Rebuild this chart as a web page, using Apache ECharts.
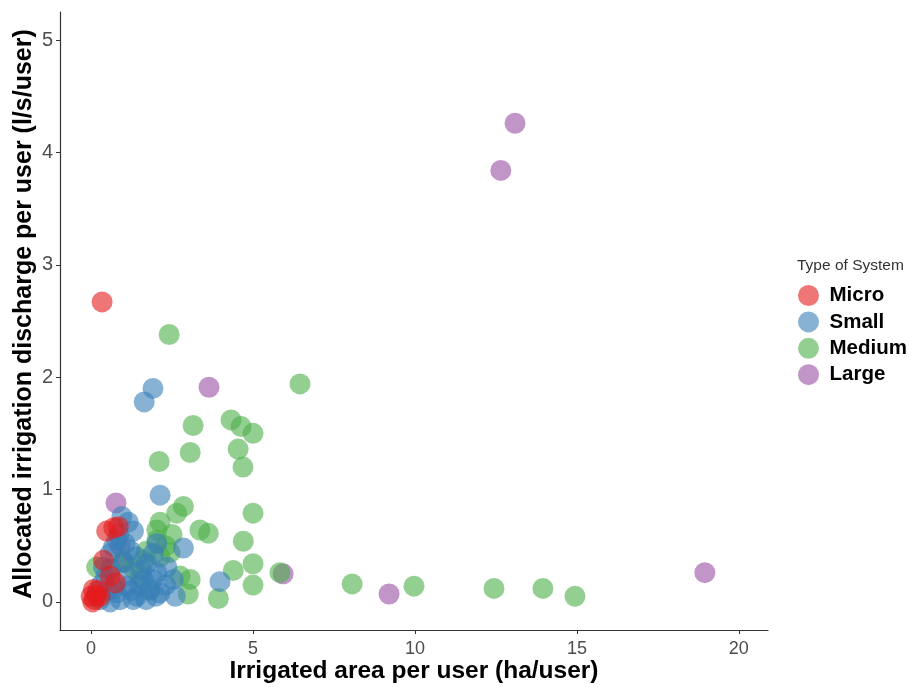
<!DOCTYPE html>
<html>
<head>
<meta charset="utf-8">
<script src="https://cdn.jsdelivr.net/npm/echarts@6/dist/echarts.min.js"></script>
<style>
html,body{margin:0;padding:0;background:#fff;}
#chart{width:909px;height:687px;}
</style>
</head>
<body>
<div id="chart"></div>
<script>
// Data: [irrigated area (ha/user), discharge (l/s/user)]
const microPoints = [[0.34,2.67],[0.84,0.67],[0.48,0.63],[0.7,0.66],[0.38,0.37],[0.59,0.23],[0.07,0.11],[0.17,0.06],[0.0,0.05],[0.28,0.05],[0.1,0.02],[0.2,0.1],[0.75,0.17],[0.05,0.0]];
const smallPoints = [[1.91,1.9],[1.64,1.78],[2.13,0.95],[2.85,0.48],[3.98,0.18],[0.95,0.76],[1.15,0.71],[1.31,0.63],[0.79,0.55],[0.69,0.49],[2.03,0.52],[1.92,0.43],[2.34,0.31],[2.03,0.26],[1.61,0.2],[1.1,0.14],[1.82,0.11],[1.41,0.05],[0.59,0.0],[0.9,0.02],[0.28,0.02],[2.13,0.08],[0.38,0.31],[0.59,0.43],[1.2,0.46],[1.56,0.28],[1.1,0.23],[2.54,0.2],[1.72,0.34],[0.5,0.1],[0.8,0.08],[1.3,0.02],[1.0,0.35],[1.4,0.4],[0.3,0.15],[0.6,0.3],[1.7,0.02],[2.3,0.15],[1.9,0.2],[0.85,0.6],[1.05,0.52],[0.45,0.22],[1.25,0.1],[1.5,0.15],[2.0,0.05],[0.7,0.12],[2.6,0.05]];
const mediumPoints = [[2.41,2.38],[6.45,1.94],[4.32,1.62],[3.15,1.57],[4.63,1.56],[5.0,1.5],[4.54,1.36],[3.06,1.33],[2.1,1.25],[4.69,1.2],[5.0,0.79],[2.85,0.85],[2.64,0.79],[2.13,0.71],[2.03,0.64],[3.36,0.64],[3.62,0.61],[4.7,0.54],[5.0,0.34],[4.39,0.28],[5.83,0.26],[5.0,0.15],[3.93,0.03],[3.0,0.07],[3.06,0.2],[2.75,0.23],[2.44,0.44],[2.13,0.4],[1.61,0.37],[1.51,0.23],[1.0,0.37],[0.17,0.31],[2.03,0.55],[8.06,0.16],[9.97,0.14],[12.44,0.12],[13.95,0.12],[14.94,0.05],[2.3,0.5],[1.8,0.1],[2.5,0.6],[1.3,0.3],[0.6,0.28],[1.7,0.45]];
const largePoints = [[13.09,4.26],[12.65,3.84],[3.64,1.91],[0.77,0.88],[18.95,0.26],[9.2,0.07],[5.93,0.25],[1.0,0.35],[0.9,0.5]];

const seriesNames = ['Micro','Small','Medium','Large'];
const seriesColors = ['#E41A1C','#377EB8','#4DAF4A','#984EA3'];
const xTicks = [0,5,10,15,20];
const yTicks = [0,1,2,3,4,5];

const chart = echarts.init(document.getElementById('chart'), null, {renderer:'canvas'});

function mk(name, data, color, z){
  return {
    name: name, type: 'scatter', data: data, symbol: 'circle', symbolSize: 21, z: z,
    itemStyle: {color: color, opacity: 0.6},
    emphasis: {disabled: true}
  };
}

const option = {
  backgroundColor: '#ffffff',
  animation: false,
  title: {
    text: 'Type of System', left: 797, top: 258, padding: 0,
    textStyle: {fontFamily: 'Liberation Sans', fontSize: 15.5, fontWeight: 'normal', color: '#333'}
  },
  legend: {
    orient: 'vertical', left: 798, top: 285, itemGap: 5.4, padding: 0,
    itemWidth: 32, itemHeight: 21, icon: 'circle', symbolKeepAspect: true,
    data: seriesNames.map((n,i)=>({name:n, itemStyle:{color:seriesColors[i], opacity:0.6}})),
    textStyle: {fontFamily: 'Liberation Sans', fontSize: 20.5, fontWeight: 'bold', color: '#000'}
  },
  grid: {left: 60, right: 141, top: 12, bottom: 57, containLabel: false, outerBoundsMode: 'none'},
  xAxis: {
    type: 'value', min: -0.96, max: 20.9,
    name: 'Irrigated area per user (ha/user)', nameLocation: 'middle', nameGap: 29, nameMoveOverlap: false,
    nameTextStyle: {fontFamily: 'Liberation Sans', fontSize: 24.5, fontWeight: 'bold', color: '#000'},
    axisLine: {show: true, onZero: false, lineStyle: {color: '#333', width: 1.2}},
    axisTick: {show: true, length: 4, customValues: xTicks, lineStyle: {color: '#333'}},
    axisLabel: {customValues: xTicks, fontFamily: 'Liberation Sans', fontSize: 18, color: '#4D4D4D', margin: 10},
    splitLine: {show: false}
  },
  yAxis: {
    type: 'value', min: -0.25, max: 5.25,
    name: 'Allocated irrigation discharge per user (l/s/user)', nameLocation: 'middle', nameGap: 23, nameMoveOverlap: false,
    nameTextStyle: {fontFamily: 'Liberation Sans', fontSize: 25, fontWeight: 'bold', color: '#000', padding: [0,0,0,14]},
    axisLine: {show: true, onZero: false, lineStyle: {color: '#333', width: 1.2}},
    axisTick: {show: true, length: 4, customValues: yTicks, lineStyle: {color: '#333'}},
    axisLabel: {customValues: yTicks, fontFamily: 'Liberation Sans', fontSize: 20, color: '#4D4D4D', margin: 7},
    splitLine: {show: false}
  },
  series: [
    mk('Large', largePoints, seriesColors[3], 2),
    mk('Medium', mediumPoints, seriesColors[2], 3),
    mk('Small', smallPoints, seriesColors[1], 4),
    mk('Micro', microPoints, seriesColors[0], 5)
  ]
};
chart.setOption(option);
</script>
</body>
</html>
